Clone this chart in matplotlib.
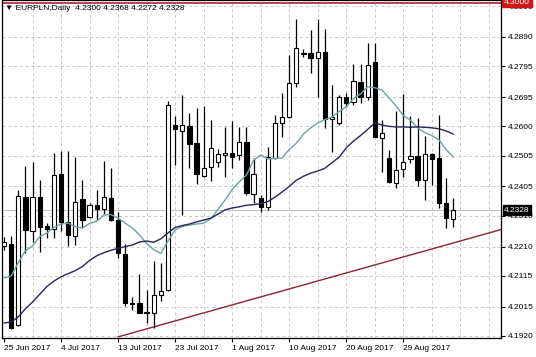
import matplotlib

matplotlib.use("Agg")
import matplotlib.pyplot as plt
from matplotlib.transforms import blended_transform_factory

plt.rcParams["font.family"] = ["Liberation Sans", "DejaVu Sans"]

# EURPLN daily candles (index 0 = 25 Jun 2017)
opens = [
    4.2212, 4.2218, 4.1956, 4.2371, 4.2260, 4.2371, 4.2277, 4.2267, 4.2445, 4.2290,
    4.2244, 4.2364, 4.2306, 4.2345, 4.2332, 4.2368, 4.2296, 4.2186, 4.2027, 4.2027,
    4.1998, 4.1994, 4.2053, 4.2069, 4.2604, 4.2585, 4.2601, 4.2546, 4.2439, 4.2468,
    4.2484, 4.2507, 4.2513, 4.2507, 4.2549, 4.2380, 4.2368, 4.2338, 4.2497, 4.2611,
    4.2630, 4.2741, 4.2839, 4.2838, 4.2822, 4.2841, 4.2624, 4.2611, 4.2695, 4.2679,
    4.2744, 4.2695, 4.2809, 4.2562, 4.2497, 4.2416, 4.2462, 4.2494, 4.2504, 4.2426,
    4.2510, 4.2497, 4.2351, 4.2300,
]
highs = [
    4.2241, 4.2244, 4.2393, 4.2471, 4.2484, 4.2426, 4.2286, 4.2513, 4.2520, 4.2520,
    4.2500, 4.2426, 4.2351, 4.2393, 4.2488, 4.2465, 4.2322, 4.2218, 4.2046, 4.2121,
    4.2069, 4.2163, 4.2157, 4.2682, 4.2633, 4.2702, 4.2643, 4.2659, 4.2666, 4.2620,
    4.2526, 4.2598, 4.2617, 4.2598, 4.2598, 4.2497, 4.2377, 4.2533, 4.2637, 4.2708,
    4.2831, 4.2948, 4.2851, 4.2912, 4.2948, 4.2916, 4.2734, 4.2702, 4.2708, 4.2802,
    4.2802, 4.2870, 4.2870, 4.2620, 4.2523, 4.2650, 4.2705, 4.2633, 4.2627, 4.2569,
    4.2515, 4.2637, 4.2432, 4.2368,
]
lows = [
    4.2199, 4.1943, 4.1952, 4.2189, 4.2225, 4.2192, 4.2238, 4.2238, 4.2260, 4.2212,
    4.2215, 4.2270, 4.2304, 4.2296, 4.2316, 4.2293, 4.2173, 4.2017, 4.2004, 4.1993,
    4.1962, 4.1946, 4.2033, 4.2066, 4.2475, 4.2312, 4.2465, 4.2413, 4.2436, 4.2423,
    4.2468, 4.2436, 4.2465, 4.2491, 4.2377, 4.2351, 4.2322, 4.2329, 4.2494, 4.2565,
    4.2627, 4.2728, 4.2825, 4.2773, 4.2695, 4.2595, 4.2517, 4.2604, 4.2663, 4.2669,
    4.2676, 4.2685, 4.2565, 4.2452, 4.2416, 4.2400, 4.2436, 4.2481, 4.2406, 4.2361,
    4.2409, 4.2335, 4.2270, 4.2272,
]
closes = [
    4.2225, 4.1946, 4.2374, 4.2264, 4.2371, 4.2273, 4.2267, 4.2442, 4.2290, 4.2247,
    4.2355, 4.2296, 4.2345, 4.2332, 4.2371, 4.2296, 4.2189, 4.2027, 4.2024, 4.1994,
    4.1994, 4.2053, 4.2066, 4.2669, 4.2591, 4.2604, 4.2543, 4.2445, 4.2465, 4.2530,
    4.2510, 4.2513, 4.2500, 4.2549, 4.2384, 4.2445, 4.2338, 4.2500, 4.2611, 4.2630,
    4.2741, 4.2854, 4.2836, 4.2822, 4.2841, 4.2624, 4.2630, 4.2695, 4.2676, 4.2747,
    4.2695, 4.2799, 4.2565, 4.2578, 4.2419, 4.2458, 4.2484, 4.2504, 4.2426, 4.2510,
    4.2494, 4.2351, 4.2303, 4.2328,
]

# moving averages as drawn on the chart
ma_fast = [
    4.2108, 4.2114, 4.2158, 4.2196, 4.2212, 4.2242, 4.2254, 4.2272, 4.2283, 4.2286,
    4.2275, 4.2270, 4.2285, 4.2292, 4.2312, 4.2314, 4.2302, 4.2286, 4.2270, 4.2248,
    4.2220, 4.2200, 4.2188, 4.2228, 4.2264, 4.2275, 4.2280, 4.2283, 4.2286, 4.2300,
    4.2330, 4.2361, 4.2395, 4.2420, 4.2442, 4.2490, 4.2507, 4.2494, 4.2496, 4.2497,
    4.2525, 4.2545, 4.2575, 4.2595, 4.2611, 4.2622, 4.2630, 4.2648, 4.2663, 4.2690,
    4.2705, 4.2728, 4.2725, 4.2718, 4.2692, 4.2665, 4.2635, 4.2620, 4.2595, 4.2580,
    4.2570, 4.2556, 4.2525, 4.2500,
]
ma_slow = [
    4.1962, 4.1965, 4.1982, 4.2008, 4.2030, 4.2055, 4.2080, 4.2098, 4.2112, 4.2122,
    4.2132, 4.2145, 4.2165, 4.2180, 4.2190, 4.2198, 4.2204, 4.2210, 4.2215, 4.2225,
    4.2228, 4.2224, 4.2235, 4.2254, 4.2272, 4.2278, 4.2283, 4.2290, 4.2296, 4.2302,
    4.2315, 4.2329, 4.2335, 4.2339, 4.2344, 4.2346, 4.2349, 4.2356, 4.2370, 4.2387,
    4.2405, 4.2425, 4.2438, 4.2448, 4.2455, 4.2464, 4.2482, 4.2500, 4.2530, 4.2552,
    4.2570, 4.2590, 4.2611, 4.2604, 4.2600, 4.2598, 4.2598, 4.2597, 4.2598, 4.2597,
    4.2595, 4.2592, 4.2585, 4.2575,
]

trend_x = [16.0, 70.0]
trend_y = [4.1917, 4.2267]
level_price = 4.3000
bid_price = 4.2328

price_ticks = [4.1920, 4.2015, 4.2115, 4.2210, 4.2310, 4.2405, 4.2505,
               4.2600, 4.2695, 4.2795, 4.2890, 4.2990]
date_pos = [0, 8, 16, 24, 32, 40, 48, 56]
date_labels = ["25 Jun 2017", "4 Jul 2017", "13 Jul 2017", "23 Jul 2017",
               "1 Aug 2017", "10 Aug 2017", "20 Aug 2017", "29 Aug 2017"]
title = "\u25bc EURPLN,Daily  4.2300 4.2368 4.2272 4.2328"

fig = plt.figure(figsize=(5.36, 3.57), dpi=100)
ax = fig.add_axes([2 / 536, 19 / 357, 499 / 536, 338 / 357])
ax.set_xlim(-0.28, 69.7)
ax.set_ylim(4.19134, 4.30097)

# dashed grid, every 4 bars and at each price tick
for x in range(4, 70, 4):
    ax.axvline(x, color="#c8c8c8", lw=0.7, ls=(0, (3, 3)), zorder=0)
for p in price_ticks:
    ax.axhline(p, color="#c8c8c8", lw=0.7, ls=(0, (3, 3)), zorder=0)

ax.axhline(bid_price, color="#c4c4c4", lw=0.8, zorder=1)
ax.axhline(level_price, color="#b83048", lw=1.3, zorder=2)
ax.plot(trend_x, trend_y, color="#8b2434", lw=1.0, zorder=2)

idx = list(range(len(opens)))
ax.plot(idx, ma_fast, color="#6fa3a6", lw=1.0, zorder=5)
ax.plot(idx, ma_slow, color="#26265a", lw=1.0, zorder=5)

ax.vlines(idx, lows, highs, color="black", lw=0.9, zorder=3)
bottoms = [min(o, c) for o, c in zip(opens, closes)]
heights = [max(abs(c - o), 0.00012) for o, c in zip(opens, closes)]
colors = ["white" if c >= o else "black" for o, c in zip(opens, closes)]
ax.bar(idx, heights, bottom=bottoms, width=0.6, color=colors,
       edgecolor="black", linewidth=0.8, zorder=4)

for side in ax.spines.values():
    side.set_color("black")
    side.set_linewidth(0.9)

ax.yaxis.tick_right()
ax.set_yticks(price_ticks)
ax.set_yticklabels([f"{p:.4f}" for p in price_ticks])
ax.tick_params(axis="y", length=3, pad=2, labelsize=6, colors="black")
ax.set_xticks(date_pos)
ax.set_xticklabels(date_labels, ha="left")
ax.tick_params(axis="x", length=3, pad=2, labelsize=6)

trans = blended_transform_factory(ax.transAxes, ax.transData)
ax.text(1.006, bid_price, f"{bid_price:.4f}", transform=trans, fontsize=6,
        color="white", va="center", ha="left", clip_on=False, zorder=10,
        bbox=dict(boxstyle="square,pad=0.15", fc="black", ec="black"))
ax.text(1.006, level_price + 0.0003, f"{level_price:.4f}", transform=trans,
        fontsize=6, color="white", va="center", ha="left", clip_on=False,
        zorder=10, bbox=dict(boxstyle="square,pad=0.2", fc="#d01818", ec="#d01818"))

fig.text(5 / 536, 1 - 9 / 357, title, fontsize=6, va="center", ha="left")

fig.savefig("out.png", dpi=100)
plt.close(fig)
